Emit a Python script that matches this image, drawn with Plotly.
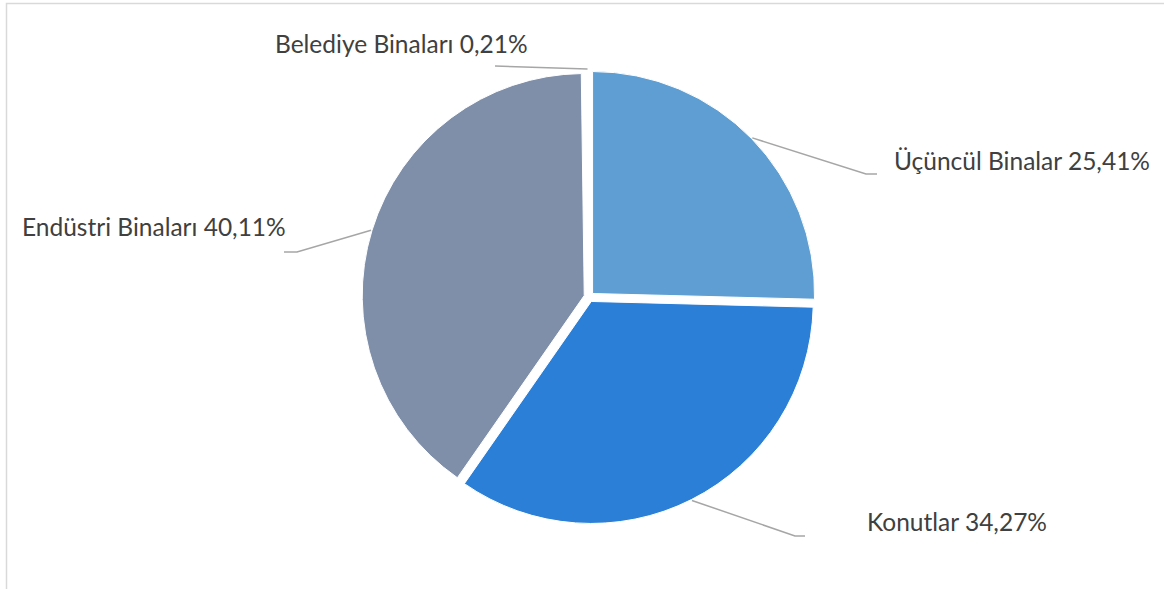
import math
import plotly.graph_objects as go

# ---- data ----
labels = ["Üçüncül Binalar", "Konutlar", "Endüstri Binaları", "Belediye Binaları"]
values = [25.41, 34.27, 40.11, 0.21]
colors = ["#5F9ED3", "#2B7FD7", "#7F8FA9", "#FFFFFF"]

# ---- layout constants (pixels) ----
W, H = 1164, 589
CX, CY = 589, 297      # pie centre
R = 222                # pie radius
PULL = 0.0225
LEADER_R = 228         # where leader lines start

label_layout = {
    "Üçüncül Binalar": dict(elbow=(866, 174), end=(877, 174), text=(892, 160), anchor="left"),
    "Konutlar": dict(elbow=(795, 536), end=(805, 536), text=(865, 521), anchor="left"),
    "Endüstri Binaları": dict(elbow=(297, 252), end=(284, 252), text=(288, 227), anchor="right"),
    "Belediye Binaları": dict(elbow=None, end=(495, 66), text=(273, 43), anchor="left"),
}


def px(x):
    return x / W


def py(y):
    return 1 - y / H


half = R * (1 + PULL)
fig = go.Figure(go.Pie(
    labels=labels, values=values, sort=False, direction="clockwise", rotation=0,
    marker=dict(colors=colors, line=dict(color="white", width=1)),
    pull=[PULL] * len(values), textinfo="none", hoverinfo="label+percent",
    domain=dict(x=[px(CX - half), px(CX + half)], y=[py(CY + half), py(CY - half)]),
    showlegend=False,
))

shapes = []
annotations = []
total = sum(values)
cum = 0.0
for lab, v in zip(labels, values):
    mid = (cum + v / 2) / total * 2 * math.pi
    cum += v
    sx = CX + LEADER_R * math.sin(mid)
    sy = CY - LEADER_R * math.cos(mid)
    lay = label_layout[lab]
    pts = [(sx, sy)]
    if lay["elbow"] is not None:
        pts.append(lay["elbow"])
    pts.append(lay["end"])
    path = "M " + " L ".join(f"{px(a):.5f},{py(b):.5f}" for a, b in pts)
    shapes.append(dict(type="path", path=path, xref="paper", yref="paper",
                       line=dict(color="#A6A6A6", width=1.5)))
    txt = f"{lab} {v:.2f}".replace(".", ",") + "%"
    tx, ty = lay["text"]
    annotations.append(dict(text=txt, x=px(tx), y=py(ty), xref="paper", yref="paper",
                            xanchor=lay["anchor"], yanchor="middle", showarrow=False,
                            font=dict(family="Lato", size=24.5, color="#404040")))

# chart frame
shapes.append(dict(type="rect", xref="paper", yref="paper",
                   x0=px(6.5), x1=1.02, y0=-0.02, y1=py(3.5),
                   line=dict(color="#D9D9D9", width=1.5), layer="below"))

fig.update_layout(
    width=W, height=H, margin=dict(l=0, r=0, t=0, b=0),
    paper_bgcolor="white", plot_bgcolor="white",
    shapes=shapes, annotations=annotations,
)

fig.write_html("out.html", config={"displayModeBar": False},
               post_script="document.body.style.margin='0';document.body.style.overflow='hidden';")
